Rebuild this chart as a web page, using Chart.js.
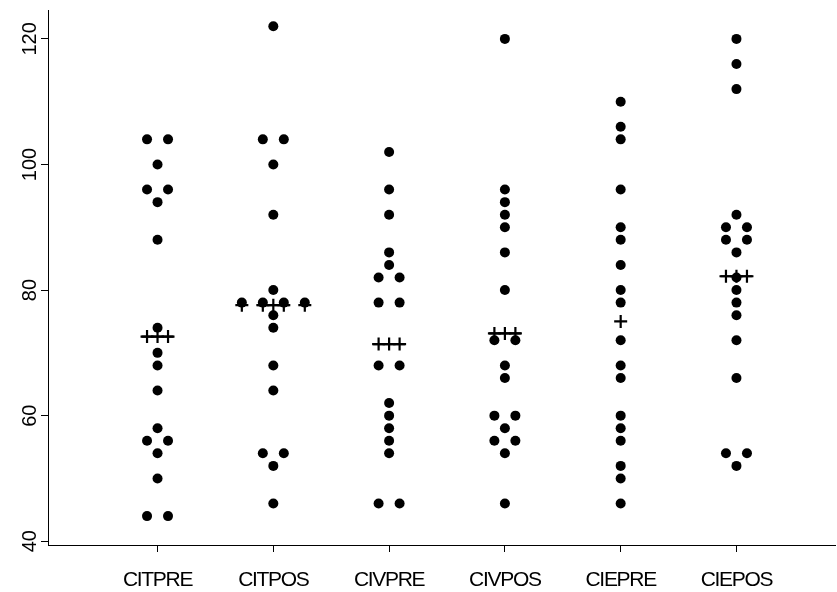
<!DOCTYPE html>
<html>
<head>
<meta charset="utf-8">
<script src="https://cdn.jsdelivr.net/npm/chart.js@4.4.1/dist/chart.umd.min.js"></script>
<style>
  html, body { margin: 0; padding: 0; background: #fff; }
  #wrap { width: 837px; height: 592px; }
</style>
</head>
<body>
<div id="wrap"><canvas id="c" width="837" height="592"></canvas></div>
<script>
// Group names along the horizontal axis
const categories = ['CITPRE', 'CITPOS', 'CIVPRE', 'CIVPOS', 'CIEPRE', 'CIEPOS'];

// Observed scores for each group (binned to even values)
const citpre = [104, 104, 100, 96, 96, 94, 88, 74, 70, 68, 64, 58, 56, 56, 54, 50, 44, 44];
const citpos = [122, 104, 104, 100, 92, 80, 78, 78, 78, 78, 76, 74, 68, 64, 54, 54, 52, 46];
const civpre = [102, 96, 92, 86, 84, 82, 82, 78, 78, 68, 68, 62, 60, 58, 56, 54, 46, 46];
const civpos = [120, 96, 94, 92, 90, 86, 80, 72, 72, 68, 66, 60, 60, 58, 56, 56, 54, 46];
const ciepre = [110, 106, 104, 96, 90, 88, 84, 80, 78, 72, 68, 66, 60, 58, 56, 52, 50, 46];
const ciepos = [120, 116, 112, 92, 90, 90, 88, 88, 86, 82, 80, 78, 76, 72, 66, 54, 54, 52];

// Group means, drawn as a short line with cross markers
const means = [72.6, 77.6, 71.4, 73.1, 75.0, 82.2];

// Value axis ticks
const yTicks = [40, 60, 80, 100, 120];

const groups = [citpre, citpos, civpre, civpos, ciepre, ciepos];

// Horizontal spacing between side-by-side dots, in category units
const DOT_STEP = 0.1813;
const MEAN_HALF = 0.138;

// Count ties so equal values sit side by side around the group centre
function dotRows(values) {
  const counts = new Map();
  values.forEach(v => counts.set(v, (counts.get(v) || 0) + 1));
  return counts;
}

const dotPoints = [];
const crossPoints = [];
const meanLines = [];
groups.forEach((vals, gi) => {
  const cx = gi + 1;
  const counts = dotRows(vals);
  let widest = 1;
  counts.forEach((k, v) => {
    widest = Math.max(widest, k);
    for (let j = 0; j < k; j++) {
      dotPoints.push({ x: cx + (j - (k - 1) / 2) * DOT_STEP, y: v });
    }
  });
  crossPoints.push({ x: cx, y: means[gi] });
  if (widest >= 2) {
    for (let j = 0; j < widest; j++) {
      crossPoints.push({ x: cx + (j - (widest - 1) / 2) * DOT_STEP, y: means[gi] });
    }
    meanLines.push({
      type: 'line',
      data: [{ x: cx - MEAN_HALF, y: means[gi] }, { x: cx + MEAN_HALF, y: means[gi] }],
      borderColor: '#000',
      borderWidth: 2.2,
      pointRadius: 0,
      showLine: true,
      fill: false,
      order: 2
    });
  }
});

const tickFont = { family: "'Liberation Sans', Arial, sans-serif", size: 20 };
const catFont = { family: "'Liberation Sans', Arial, sans-serif", size: 21 };

// Category labels are set with slightly tight tracking
function tightLabels(scale) {
  if (scale._tightPatched) return;
  const orig = scale.drawLabels.bind(scale);
  scale.drawLabels = function (area) {
    const ctx = this.ctx;
    ctx.save();
    ctx.letterSpacing = '-1.3px';
    orig(area);
    ctx.restore();
  };
  scale._tightPatched = true;
}

new Chart(document.getElementById('c'), {
  type: 'scatter',
  data: {
    datasets: [
      ...meanLines,
      {
        type: 'scatter',
        data: crossPoints,
        pointStyle: 'cross',
        pointRadius: 6.5,
        borderColor: '#000',
        borderWidth: 2.2,
        order: 1
      },
      {
        type: 'scatter',
        data: dotPoints,
        pointStyle: 'circle',
        pointRadius: 5,
        backgroundColor: '#000',
        borderColor: '#000',
        borderWidth: 0,
        order: 0
      }
    ]
  },
  options: {
    responsive: false,
    animation: false,
    devicePixelRatio: 1,
    layout: { autoPadding: false, padding: { top: 10, right: 2, left: 0, bottom: 0 } },
    plugins: { legend: { display: false }, tooltip: { enabled: false } },
    scales: {
      x: {
        type: 'linear',
        min: 0.054,
        max: 6.851,
        afterBuildTicks: s => { s.ticks = categories.map((_, i) => ({ value: i + 1 })); },
        afterFit: s => {
          s.height = 47;
          s.paddingLeft = 0;
          s.paddingRight = 0;
          tightLabels(s);
        },
        ticks: {
          color: '#000',
          font: catFont,
          padding: 16,
          maxRotation: 0,
          minRotation: 0,
          autoSkip: false,
          callback: v => categories[v - 1]
        },
        grid: { drawOnChartArea: false, drawTicks: true, tickLength: 7, color: '#000', lineWidth: 1 },
        border: { display: true, color: '#000', width: 1 }
      },
      y: {
        type: 'linear',
        min: 39.4,
        max: 124.6,
        afterBuildTicks: s => { s.ticks = yTicks.map(v => ({ value: v })); },
        afterFit: s => {
          s.width = 48;
          s.paddingTop = 0;
          s.paddingBottom = 0;
        },
        ticks: {
          color: '#000',
          font: tickFont,
          minRotation: 90,
          maxRotation: 90,
          crossAlign: 'center',
          padding: -6,
          autoSkip: false
        },
        grid: { drawOnChartArea: false, drawTicks: true, tickLength: 7, color: '#000', lineWidth: 1 },
        border: { display: true, color: '#000', width: 1 }
      }
    }
  }
});
</script>
</body>
</html>
